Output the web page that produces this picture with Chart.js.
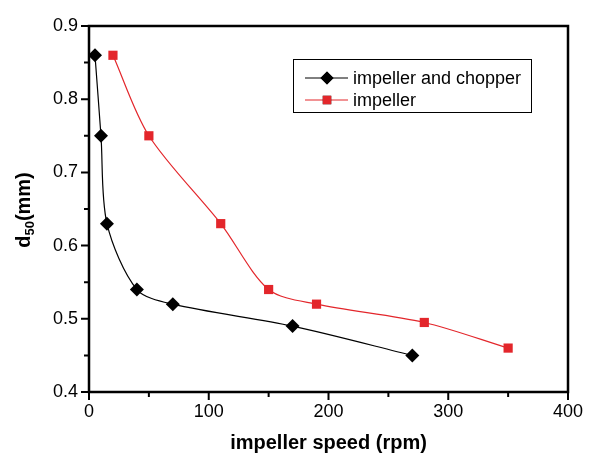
<!DOCTYPE html>
<html>
<head>
<meta charset="utf-8">
<script src="https://cdn.jsdelivr.net/npm/chart.js@4.4.1/dist/chart.umd.min.js"></script>
<style>
  html, body { margin: 0; padding: 0; background: #fff; }
  #wrap { width: 606px; height: 472px; }
</style>
</head>
<body>
<div id="wrap"><canvas id="chartCanvas" width="606" height="472"></canvas></div>
<script>
// ---------- Data ----------
const chopperSpeed = [5, 10, 15, 40, 70, 170, 270];
const chopperD50 = [0.86, 0.75, 0.63, 0.54, 0.52, 0.49, 0.45];

const impellerSpeed = [20, 50, 110, 150, 190, 280, 350];
const impellerD50 = [0.86, 0.75, 0.63, 0.54, 0.52, 0.495, 0.46];

const seriesLabels = ["impeller and chopper", "impeller"];

const xTicks = [0, 100, 200, 300, 400];
const xMinorTicks = [50, 150, 250, 350];
const yTicks = [0.4, 0.5, 0.6, 0.7, 0.8, 0.9];
const yMinorTicks = [0.45, 0.55, 0.65, 0.75, 0.85];

const FONT = "'Liberation Sans', Arial, sans-serif";
const RED = "#e3262b";

function toPoints(xs, ys) {
    return xs.map((x, i) => ({ x: x, y: ys[i] }));
}

// ---------- Frame, ticks, titles, legend ----------
const framePlugin = {
    id: "frame",
    afterDraw(chart) {
        const ctx = chart.ctx;
        const a = chart.chartArea;
        const xs = chart.scales.x;
        const ys = chart.scales.y;
        ctx.save();
        ctx.strokeStyle = "#000";
        ctx.lineWidth = 2.5;
        ctx.strokeRect(a.left, a.top, a.right - a.left, a.bottom - a.top);

        // ticks (outside)
        ctx.lineWidth = 2;
        ctx.beginPath();
        yTicks.forEach(v => { const p = ys.getPixelForValue(v); ctx.moveTo(a.left - 8, p); ctx.lineTo(a.left, p); });
        yMinorTicks.forEach(v => { const p = ys.getPixelForValue(v); ctx.moveTo(a.left - 5, p); ctx.lineTo(a.left, p); });
        xTicks.forEach(v => { const p = xs.getPixelForValue(v); ctx.moveTo(p, a.bottom); ctx.lineTo(p, a.bottom + 8); });
        xMinorTicks.forEach(v => { const p = xs.getPixelForValue(v); ctx.moveTo(p, a.bottom); ctx.lineTo(p, a.bottom + 5); });
        ctx.stroke();

        // x title
        ctx.fillStyle = "#000";
        ctx.font = "bold 20px " + FONT;
        ctx.textAlign = "center";
        ctx.textBaseline = "middle";
        ctx.fillText("impeller speed (rpm)", (a.left + a.right) / 2, 443);

        // y title with subscript
        ctx.save();
        ctx.translate(22, 210);
        ctx.rotate(-Math.PI / 2);
        ctx.textBaseline = "alphabetic";
        ctx.textAlign = "left";
        const big = "bold 20px " + FONT;
        const small = "bold 13px " + FONT;
        ctx.font = big; const w1 = ctx.measureText("d").width;
        ctx.font = small; const w2 = ctx.measureText("50").width;
        ctx.font = big; const w3 = ctx.measureText("(mm)").width;
        let x0 = -(w1 + w2 + w3) / 2;
        const base = 8;
        ctx.font = big; ctx.fillText("d", x0, base); x0 += w1;
        ctx.font = small; ctx.fillText("50", x0, base + 4); x0 += w2;
        ctx.font = big; ctx.fillText("(mm)", x0, base);
        ctx.restore();

        // legend
        const lx = 293, ly = 59, lw = 238, lh = 53;
        ctx.lineWidth = 1;
        ctx.strokeRect(lx + 0.5, ly + 0.5, lw, lh);
        ctx.font = "18px " + FONT;
        ctx.textAlign = "left";
        ctx.textBaseline = "middle";
        chart.data.datasets.forEach((ds, i) => {
            const cy = ly + 19 + i * 22;
            ctx.strokeStyle = ds.borderColor;
            ctx.lineWidth = 1;
            ctx.beginPath();
            ctx.moveTo(lx + 12, cy); ctx.lineTo(lx + 55, cy);
            ctx.stroke();
            Chart.helpers.drawPoint(ctx, {
                pointStyle: ds.pointStyle, radius: ds.pointRadius - 0.5, borderWidth: 0
            }, lx + 34, cy);
            ctx.fillStyle = ds.pointBackgroundColor;
            ctx.fill();
            ctx.fillStyle = "#000";
            ctx.fillText(ds.label, lx + 60, cy + 1);
        });
        ctx.restore();
    }
};

const chartRef = new Chart(document.getElementById("chartCanvas").getContext("2d"), {
    type: "line",
    data: {
        datasets: [{
            label: seriesLabels[0],
            data: toPoints(chopperSpeed, chopperD50),
            borderColor: "#000",
            borderWidth: 1.2,
            pointStyle: "rectRot",
            pointRadius: 7,
            pointBackgroundColor: "#000",
            pointBorderWidth: 0,
            tension: 0.3,
            fill: false
        }, {
            label: seriesLabels[1],
            data: toPoints(impellerSpeed, impellerD50),
            borderColor: RED,
            borderWidth: 1.2,
            pointStyle: "rect",
            pointRadius: 6.5,
            pointBackgroundColor: RED,
            pointBorderWidth: 0,
            tension: 0.3,
            fill: false
        }]
    },
    options: {
        responsive: false,
        animation: false,
        layout: { padding: { left: 0, top: 26, right: 38, bottom: 0 } },
        plugins: {
            legend: { display: false },
            tooltip: { enabled: false },
            title: { display: false }
        },
        scales: {
            x: {
                type: "linear",
                min: 0, max: 400,
                afterBuildTicks: s => { s.ticks = xTicks.map(v => ({ value: v })); },
                afterFit: s => { s.height = 80; },
                grid: { display: false, drawTicks: false },
                border: { display: false },
                ticks: { color: "#000", font: { family: FONT, size: 18 }, padding: 9, maxRotation: 0 }
            },
            y: {
                type: "linear",
                min: 0.4, max: 0.9,
                afterBuildTicks: s => { s.ticks = yTicks.map(v => ({ value: v })); },
                afterFit: s => { s.width = 89; },
                grid: { display: false, drawTicks: false },
                border: { display: false },
                ticks: {
                    color: "#000", font: { family: FONT, size: 18 }, padding: 11,
                    callback: v => v.toFixed(1)
                }
            }
        }
    },
    plugins: [framePlugin]
});
</script>
</body>
</html>
